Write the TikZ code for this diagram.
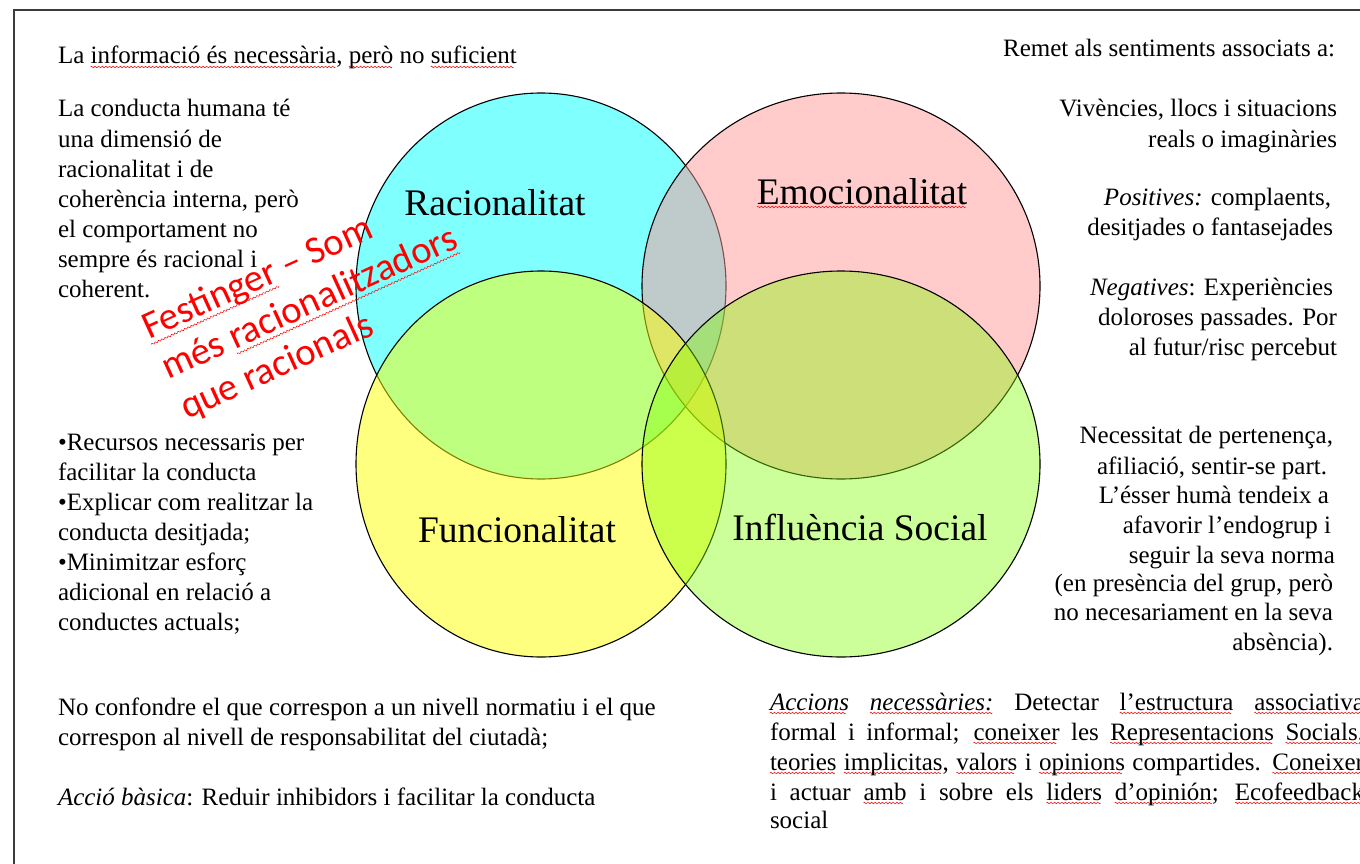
\documentclass[tikz,border=0pt]{standalone}
\usepackage{fontspec}
\setmainfont{Liberation Serif}
\newfontfamily\calibfont{Carlito}
\usetikzlibrary{shapes.geometric}
\definecolor{cyanfill}{RGB}{128,255,255}
\definecolor{pinkfill}{RGB}{255,153,153}
\definecolor{yellowfill}{RGB}{255,255,0}
\definecolor{greenfill}{RGB}{128,255,0}
\definecolor{redtxt}{RGB}{255,0,0}
\definecolor{framegray}{RGB}{60,60,60}
\newsavebox\wavebox
\newsavebox\wordbox
\newcommand\sq[1]{\sbox\wordbox{#1}\rlap{\lower4pt\hbox to\wd\wordbox{\leaders\copy\wavebox\hfill}}\usebox\wordbox}
\newcommand\sqr[1]{\sbox\wordbox{#1}\rlap{\lower6pt\hbox to\wd\wordbox{\leaders\copy\wavebox\hfill}}\usebox\wordbox}
\tikzset{
  body/.style={font=\fontsize{25}{30}\selectfont, inner sep=0pt, outer sep=0pt, text=black},
  bl/.style={body, anchor=base west},
  br/.style={body, anchor=base east},
  lbl/.style={font=\fontsize{37.5}{45}\selectfont, inner sep=0pt, anchor=base},
  festtxt/.style={font=\calibfont\fontsize{38.5}{46}\selectfont, text=redtxt, inner sep=0pt, anchor=base west, rotate=24.5},
  vset/.style={ellipse, draw=black, line width=1.1pt, inner sep=0pt, minimum height=386pt},
}
\begin{document}
\sbox\wavebox{\pgfpicture
  \pgfpathrectangle{\pgfpoint{0pt}{-1pt}}{\pgfpoint{3.6pt}{2pt}}\pgfusepath{use as bounding box}
  \pgfsetlinewidth{0.5pt}\pgfsetstrokecolor{red}
  \pgfpathmoveto{\pgfpoint{0pt}{0pt}}
  \pgfpathcurveto{\pgfpoint{0.7pt}{1.1pt}}{\pgfpoint{1.1pt}{1.1pt}}{\pgfpoint{1.8pt}{0pt}}
  \pgfpathcurveto{\pgfpoint{2.5pt}{-1.1pt}}{\pgfpoint{2.9pt}{-1.1pt}}{\pgfpoint{3.6pt}{0pt}}
  \pgfusepath{stroke}
\endpgfpicture}%
\begin{tikzpicture}[x=1pt,y=-1pt]
\useasboundingbox (0,0) rectangle (1360,864);
\clip (0,0) rectangle (1360,864);
\fill[white] (0,0) rectangle (1360,864);
\draw[framegray, line width=1.6pt] (14,870) -- (14,10) -- (1370,10);

% Venn sets
\node[vset, minimum width=370pt, fill=cyanfill] (rac) at (541,286) {};
\node[vset, minimum width=398pt, fill=pinkfill, fill opacity=0.5] (emo) at (841,286) {};
\node[vset, minimum width=370pt, fill=yellowfill, fill opacity=0.5] (fun) at (541,464) {};
\node[vset, minimum width=398pt, fill=greenfill, fill opacity=0.4] (inf) at (841,464) {};

\node[lbl] (lrac) at (495,215) {Racionalitat};
\node[lbl] (lemo) at (862,204) {\sq{Emocionalitat}};
\node[lbl] (lfun) at (517,542) {Funcionalitat};
\node[lbl] (linf) at (860,540) {Influència Social};

% top-left
\node[bl] (t0) at (58,64) {La \sq{informació és necessària}, \sq{però} no \sq{suficient}};
\node[bl] (t1) at (58,117) {La conducta humana té};
\node[bl] (t2) at (58,147) {una dimensió de};
\node[bl] (t3) at (58,177) {racionalitat i de};
\node[bl] (t4) at (58,207) {coherència interna, però};
\node[bl] (t5) at (58,237) {el comportament no};
\node[bl] (t6) at (58,267) {sempre és racional i};
\node[bl] (t7) at (58,297) {coherent.};

% bullets
\node[bl] (b1) at (58,450) {•Recursos necessaris per};
\node[bl] (b2) at (58,480) {facilitar la conducta};
\node[bl] (b3) at (58,510) {•Explicar com realitzar la};
\node[bl] (b4) at (58,540) {conducta desitjada;};
\node[bl] (b5) at (58,570) {•Minimitzar esforç};
\node[bl] (b6) at (58,600) {adicional en relació a};
\node[bl] (b7) at (58,630) {conductes actuals;};

% bottom-left
\node[bl] (n1) at (58,715) {No confondre el que correspon a un nivell normatiu i el que};
\node[bl] (n2) at (58,745) {correspon al nivell de responsabilitat del ciutadà;};
\node[bl] (n3) at (58,805) {\textit{Acció bàsica}: Reduir inhibidors i facilitar la conducta};

% right top
\node[br] (r0) at (1335,57) {Remet als sentiments associats a:};
\node[br] (r1) at (1337,117) {Vivències, llocs i situacions};
\node[br] (r2) at (1337,147) {reals o imaginàries};
\node[br] (r3) at (1331,205) {\textit{Positives:} complaents,};
\node[br] (r4) at (1333,235) {desitjades o fantasejades};
\node[br] (r5) at (1333,295) {\textit{Negatives}: Experiències};
\node[br] (r6) at (1337,325) {doloroses passades. Por};
\node[br] (r7) at (1337,355) {al futur/risc percebut};

% right middle
\node[br] (s1) at (1333,443) {Necessitat de pertenença,};
\node[br] (s2) at (1327,474) {afiliació, sentir-se part.};
\node[br] (s3) at (1329,503) {L’ésser humà tendeix a};
\node[br] (s4) at (1331,533) {afavorir l’endogrup i};
\node[br] (s5) at (1335,563) {seguir la seva norma};
\node[br] (s6) at (1333,591) {(en presència del grup, però};
\node[br] (s7) at (1333,620) {no necesariament en la seva};
\node[br] (s8) at (1333,650) {absència).};

% bottom-right (justified)
\node[bl] (a1) at (770,710) {\makebox[594pt][s]{\textit{\sq{Accions}} \textit{\sq{necessàries:}} Detectar \sq{l’estructura} \sq{associativa}}};
\node[bl] (a2) at (770,740) {\makebox[594pt][s]{formal i informal; \sq{coneixer} les \sq{Representacions} \sq{Socials},}};
\node[bl] (a3) at (770,770) {\makebox[594pt][s]{\sq{teories} \sq{implicitas}, \sq{valors} i \sq{opinions} compartides. \sq{Coneixer}}};
\node[bl] (a4) at (770,800) {\makebox[594pt][s]{i actuar \sq{amb} i sobre els \sq{liders} \sq{d’opinión}; \sq{Ecofeedback}}};
\node[bl] (a5) at (770,828) {social};

% red annotation
\node[festtxt] (f1) at (149,340) {\sqr{Festinger} – Som};
\node[festtxt] (f2) at (168,380) {més \sqr{racionalitzadors}};
\node[festtxt] (f3) at (187,420) {que racionals};
\end{tikzpicture}
\end{document}
